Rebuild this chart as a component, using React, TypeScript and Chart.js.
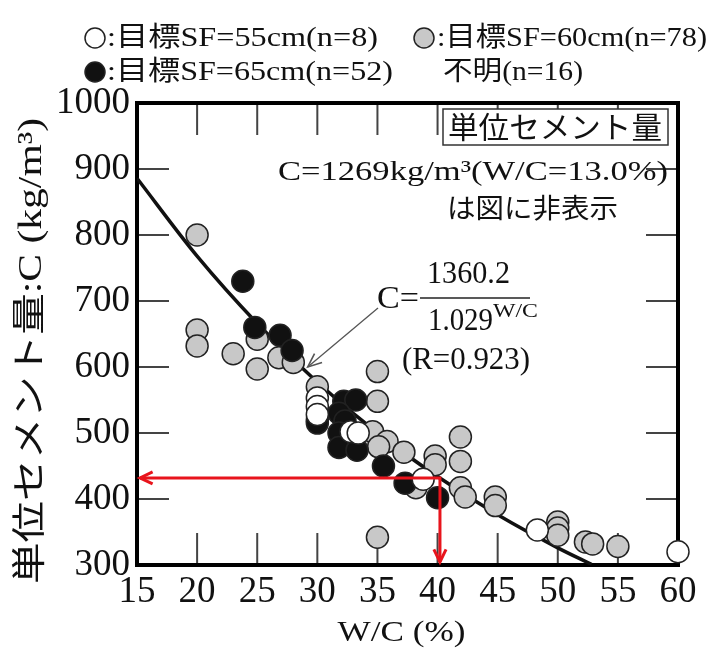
import React, { useEffect, useRef } from "react";
import { Chart, registerables } from "chart.js";

Chart.register(...registerables);

// ---- data ----
const xTicks = [15, 20, 25, 30, 35, 40, 45, 50, 55, 60];
const yTicks = [300, 400, 500, 600, 700, 800, 900, 1000];

// 目標SF=55cm (white)
const sf55X = [30, 30, 30, 32.8, 33.4, 38.8, 48.3, 60];
const sf55Y = [553, 540, 528, 502, 500, 430, 353, 320];

// 目標SF=60cm (gray)
const sf60X = [20, 20, 20, 23, 25, 25, 26.8, 28, 30, 30, 35, 35, 34.0, 34.6, 35.8, 35.1, 37.2, 38.2, 39.8, 39.8, 41.9, 41.9, 41.9, 42.3, 44.8, 44.8, 50, 50, 50, 52.3, 52.9, 55, 35];
const sf60Y = [800, 656, 632, 620, 642, 597, 614, 607, 570, 520, 593, 548, 492, 502, 487, 479, 471, 417, 465, 452, 494, 457, 417, 403, 403, 390, 365, 356, 345, 335, 332, 328, 342];

// 目標SF=65cm (black)
const sf65X = [23.8, 24.8, 26.9, 27.9, 30, 32.2, 33.2, 31.8, 32.3, 31.8, 31.8, 33.3, 35.5, 37.3, 40];
const sf65Y = [730, 660, 648, 625, 515, 548, 550, 530, 518, 500, 478, 474, 450, 424, 402];

// regression curve C = 1360.2 / 1.029^(W/C)
const fitX = [15, 20, 25, 30, 35, 40, 45, 50, 52.8];
const fitY = [886, 768, 666, 577, 500, 434, 376, 326, 301];

// red reading arrows
const readX = 40.2;
const readY = 432;
// thin annotation arrow tip (on the curve)
const noteTipX = 29.2;
const noteTipY = 600;

const pts = (xs: number[], ys: number[]) => xs.map((v, i) => ({ x: v, y: ys[i] }));

const SERIF = "'Liberation Serif', 'Noto Sans CJK JP', serif";
const CJK = "'Noto Sans CJK JP', 'Liberation Serif', sans-serif";

function fitText(
  ctx: CanvasRenderingContext2D,
  text: string,
  x: number,
  y: number,
  w: number,
  font: string,
  align: "left" | "center" = "left",
  color = "#111"
) {
  ctx.save();
  ctx.font = font;
  ctx.fillStyle = color;
  ctx.textBaseline = "middle";
  ctx.textAlign = "left";
  const m = ctx.measureText(text).width || 1;
  const sx = w / m;
  const x0 = align === "center" ? x - w / 2 : x;
  ctx.translate(x0, y);
  ctx.scale(sx, 1);
  ctx.fillText(text, 0, 0);
  ctx.restore();
}

function circle(ctx: CanvasRenderingContext2D, cx: number, cy: number, r: number, fill: string) {
  ctx.beginPath();
  ctx.arc(cx, cy, r, 0, Math.PI * 2);
  ctx.fillStyle = fill;
  ctx.fill();
  ctx.lineWidth = 1.5;
  ctx.strokeStyle = "#222";
  ctx.stroke();
}

function arrowHead(ctx: CanvasRenderingContext2D, fx: number, fy: number, tx: number, ty: number, len: number, ang: number) {
  const a = Math.atan2(ty - fy, tx - fx);
  ctx.beginPath();
  ctx.moveTo(tx - len * Math.cos(a - ang), ty - len * Math.sin(a - ang));
  ctx.lineTo(tx, ty);
  ctx.lineTo(tx - len * Math.cos(a + ang), ty - len * Math.sin(a + ang));
  ctx.stroke();
}

const GRAY = "#c8c8c8";

const deco = {
  id: "deco",
  beforeDatasetsDraw(chart: any) {
    const { ctx, chartArea: a, scales } = chart;
    const xs = scales.x;
    const ys = scales.y;
    ctx.save();
    ctx.strokeStyle = "#444";
    ctx.lineWidth = 2;
    const tl = 32;
    xTicks.slice(1, -1).forEach((v) => {
      const px = xs.getPixelForValue(v);
      ctx.beginPath();
      ctx.moveTo(px, a.top);
      ctx.lineTo(px, a.top + tl);
      ctx.moveTo(px, a.bottom);
      ctx.lineTo(px, a.bottom - tl);
      ctx.stroke();
    });
    yTicks.slice(1, -1).forEach((v) => {
      const py = ys.getPixelForValue(v);
      ctx.beginPath();
      ctx.moveTo(a.left, py);
      ctx.lineTo(a.left + tl, py);
      ctx.moveTo(a.right, py);
      ctx.lineTo(a.right - tl, py);
      ctx.stroke();
    });
    ctx.lineWidth = 4;
    ctx.strokeStyle = "#000";
    ctx.strokeRect(a.left, a.top, a.right - a.left, a.bottom - a.top);

    // label box (white background)
    const bx = a.left + 306;
    const by = a.top + 6;
    ctx.fillStyle = "#fff";
    ctx.fillRect(bx, by, 225, 36);
    ctx.lineWidth = 1.5;
    ctx.strokeStyle = "#333";
    ctx.strokeRect(bx, by, 225, 36);
    ctx.restore();
  },
  afterDatasetsDraw(chart: any) {
    const { ctx, chartArea: a, scales } = chart;
    const xs = scales.x;
    const ys = scales.y;
    ctx.save();

    // box text
    fitText(ctx, "単位セメント量", a.left + 418, a.top + 24, 214, `30px ${CJK}`, "center");
    fitText(ctx, "C=1269kg/m³(W/C=13.0%)", a.left + 141, a.top + 70, 390, `28px ${SERIF}`);
    fitText(ctx, "は図に非表示", a.left + 310, a.top + 105, 171, `27px ${CJK}`);

    // formula
    fitText(ctx, "C=", a.left + 240, a.top + 197, 42, `31px ${SERIF}`);
    fitText(ctx, "1360.2", a.left + 290, a.top + 172, 83, `31px ${SERIF}`);
    ctx.strokeStyle = "#222";
    ctx.lineWidth = 1.5;
    ctx.beginPath();
    ctx.moveTo(a.left + 283, a.top + 195);
    ctx.lineTo(a.left + 393, a.top + 195);
    ctx.stroke();
    fitText(ctx, "1.029", a.left + 291, a.top + 219, 65, `31px ${SERIF}`);
    fitText(ctx, "W/C", a.left + 356, a.top + 209, 45, `19px ${SERIF}`);
    fitText(ctx, "(R=0.923)", a.left + 265, a.top + 258, 128, `31px ${SERIF}`);

    // thin arrow to the curve
    const fx = a.left + 241;
    const fy = a.top + 205;
    const tx = xs.getPixelForValue(noteTipX);
    const ty = ys.getPixelForValue(noteTipY);
    ctx.strokeStyle = "#555";
    ctx.lineWidth = 1.3;
    ctx.beginPath();
    ctx.moveTo(fx, fy);
    ctx.lineTo(tx, ty);
    ctx.stroke();
    ctx.lineWidth = 1.6;
    arrowHead(ctx, fx, fy, tx, ty, 15, 0.4);

    // red reading arrows
    const rx = xs.getPixelForValue(readX);
    const ry = ys.getPixelForValue(readY);
    const lx = xs.getPixelForValue(15) + 3;
    const by = ys.getPixelForValue(300) - 3;
    ctx.strokeStyle = "#e8141c";
    ctx.lineWidth = 3;
    ctx.beginPath();
    ctx.moveTo(lx, ry);
    ctx.lineTo(rx, ry);
    ctx.lineTo(rx, by);
    ctx.stroke();
    arrowHead(ctx, rx, ry, lx, ry, 14, 0.45);
    arrowHead(ctx, rx, ry, rx, by, 14, 0.45);

    // legend
    circle(ctx, 95, 38, 10, "#fff");
    fitText(ctx, ":目標SF=55cm(n=8)", 107, 39, 271, `27px ${SERIF}`);
    circle(ctx, 424, 38, 10, GRAY);
    fitText(ctx, ":目標SF=60cm(n=78)", 437, 39, 270, `27px ${SERIF}`);
    circle(ctx, 95, 72, 10, "#111");
    fitText(ctx, ":目標SF=65cm(n=52)", 107, 73, 286, `27px ${SERIF}`);
    fitText(ctx, "不明(n=16)", 443, 73, 140, `27px ${SERIF}`);

    // axis titles
    ctx.save();
    ctx.translate(32, (a.top + a.bottom) / 2 + 17);
    ctx.rotate(-Math.PI / 2);
    fitText(ctx, "単位セメント量:C (kg/m³)", 0, 0, 466, `34px ${SERIF}`, "center");
    ctx.restore();
    fitText(ctx, "W/C (%)", (a.left + a.right) / 2 - 6, 633, 128, `30px ${SERIF}`, "center");

    ctx.restore();
  },
};

export default function App() {
  const ref = useRef<HTMLCanvasElement | null>(null);

  useEffect(() => {
    const prevMargin = document.body.style.margin;
    document.body.style.margin = "0";
    if (!ref.current) return;
    const pointBase = {
      type: "scatter" as const,
      pointRadius: 11,
      pointHoverRadius: 11,
      pointBorderWidth: 1.5,
      pointBorderColor: "#222",
      clip: false as any,
      showLine: false,
    };
    const chart = new Chart(ref.current, {
      type: "scatter",
      data: {
        datasets: [
          { ...pointBase, label: "SF55", data: pts(sf55X, sf55Y), pointBackgroundColor: "#fff", backgroundColor: "#fff" },
          { ...pointBase, label: "SF65", data: pts(sf65X, sf65Y), pointBackgroundColor: "#111", backgroundColor: "#111" },
          { ...pointBase, label: "SF60", data: pts(sf60X, sf60Y), pointBackgroundColor: GRAY, backgroundColor: GRAY },
          {
            type: "scatter" as const,
            label: "fit",
            data: pts(fitX, fitY),
            showLine: true,
            borderColor: "#111",
            borderWidth: 3.5,
            pointRadius: 0,
            pointHoverRadius: 0,
            cubicInterpolationMode: "monotone",
            fill: false,
          } as any,
        ],
      },
      options: {
        responsive: false,
        animation: false,
        events: [],
        layout: { padding: { top: 103, right: 37, left: 0, bottom: 0 } },
        plugins: { legend: { display: false }, tooltip: { enabled: false }, title: { display: false } },
        scales: {
          x: {
            type: "linear",
            min: 15,
            max: 60,
            afterFit: (s: any) => {
              s.height = 88;
            },
            afterBuildTicks: (s: any) => {
              s.ticks = xTicks.map((v) => ({ value: v }));
            },
            grid: { display: false, drawTicks: false },
            border: { display: false },
            ticks: { padding: 5, color: "#111", font: { family: SERIF, size: 37 }, callback: (v: any) => String(v) },
          },
          y: {
            type: "linear",
            min: 300,
            max: 1000,
            afterFit: (s: any) => {
              s.width = 137;
            },
            afterBuildTicks: (s: any) => {
              s.ticks = yTicks.map((v) => ({ value: v }));
            },
            grid: { display: false, drawTicks: false },
            border: { display: false },
            ticks: { padding: 7, color: "#111", font: { family: SERIF, size: 37 }, callback: (v: any) => String(v) },
          },
        },
      },
      plugins: [deco],
    });
    return () => {
      chart.destroy();
      document.body.style.margin = prevMargin;
    };
  }, []);

  return (
    <div style={{ position: "absolute", left: 0, top: 0, width: 715, height: 653, background: "#fff" }}>
      <canvas ref={ref} width={715} height={653} style={{ width: 715, height: 653, display: "block" }} />
    </div>
  );
}
